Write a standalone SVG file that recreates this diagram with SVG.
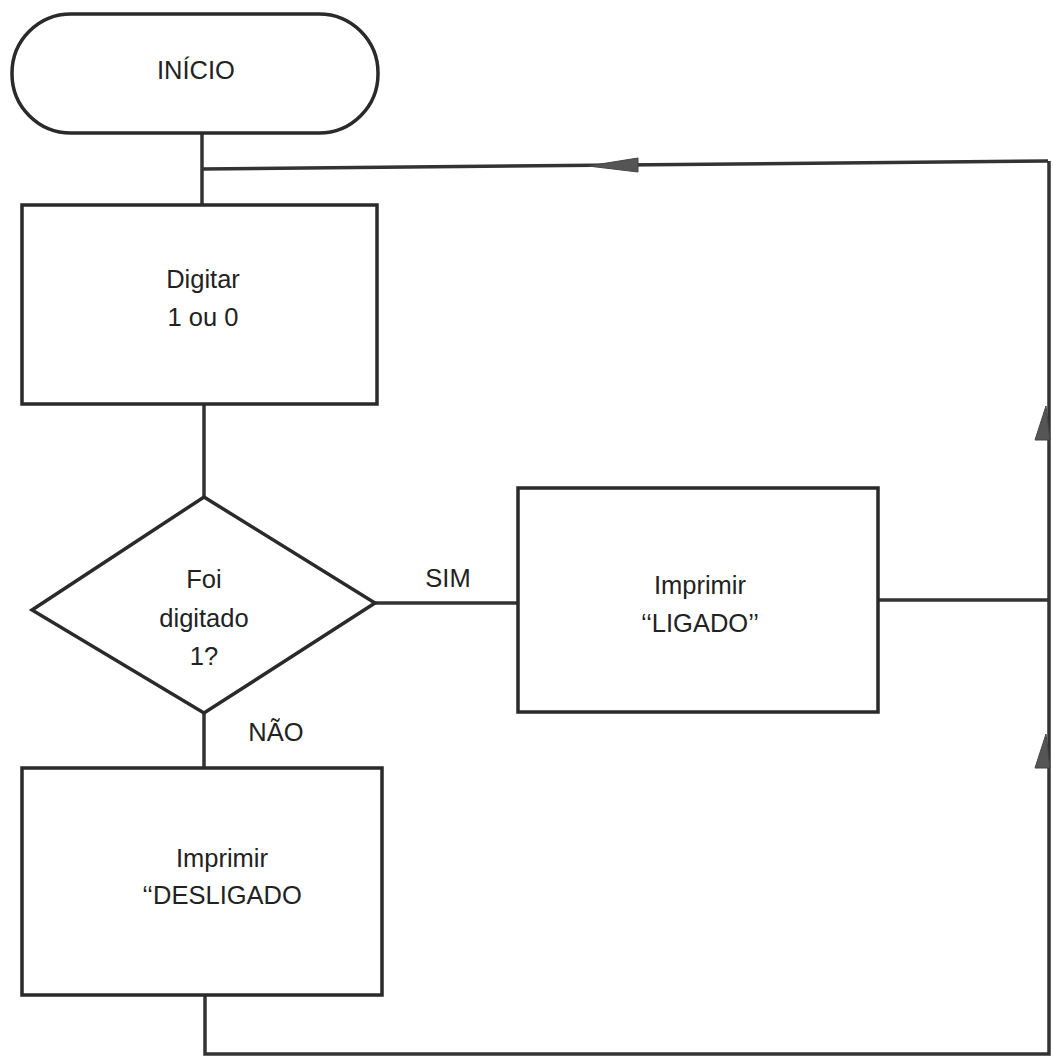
<svg xmlns="http://www.w3.org/2000/svg" width="1053" height="1062" viewBox="0 0 1053 1062">
<defs>
<style>
.shape{fill:#fff;stroke:#2a2a2a;stroke-width:3.5}
.line{fill:none;stroke:#333;stroke-width:3.5}
.t{font-family:"Liberation Sans",Arial,sans-serif;font-size:25.5px;fill:#222;text-anchor:middle}
.arrow{fill:#555;stroke:#444;stroke-width:1}
</style>
</defs>
<rect width="1053" height="1062" fill="#fff"/>
<g id="connectors">
<path class="line" d="M202 133 V205"/>
<path class="line" d="M202 169 L1048 161"/>
<path class="line" d="M204 404 V497"/>
<path class="line" d="M375 603 H518"/>
<path class="line" d="M878 600 H1048"/>
<path class="line" d="M204 713 V768"/>
<path class="line" d="M205 995 V1054 H1049 V161"/>
<polygon class="arrow" points="588,166 638,158 638,172"/>
<polygon class="arrow" points="1046,406 1035,440 1050,440"/>
<polygon class="arrow" points="1046,734 1035,768 1050,768"/>
</g>
<g id="inicio">
<rect class="shape" x="12" y="14" width="366" height="119" rx="59" ry="59"/>
<text class="t" x="196" y="79">INÍCIO</text>
</g>
<g id="digitar">
<rect class="shape" x="22" y="205" width="355" height="199"/>
<text class="t" x="203" y="288">Digitar</text>
<text class="t" x="203" y="326">1 ou 0</text>
</g>
<g id="decisao">
<polygon class="shape" points="204,497 375,603 204,713 32,610"/>
<text class="t" x="204" y="588">Foi</text>
<text class="t" x="204" y="627">digitado</text>
<text class="t" x="204" y="665">1?</text>
</g>
<g id="labels">
<text class="t" x="448" y="587">SIM</text>
<text class="t" x="276" y="741">NÃO</text>
</g>
<g id="ligado">
<rect class="shape" x="518" y="488" width="360" height="224"/>
<text class="t" x="700" y="594">Imprimir</text>
<text class="t" x="700" y="632">‘‘LIGADO’’</text>
</g>
<g id="desligado">
<rect class="shape" x="22" y="768" width="360" height="227"/>
<text class="t" x="222" y="867">Imprimir</text>
<text class="t" x="222" y="904">‘‘DESLIGADO</text>
</g>
</svg>
